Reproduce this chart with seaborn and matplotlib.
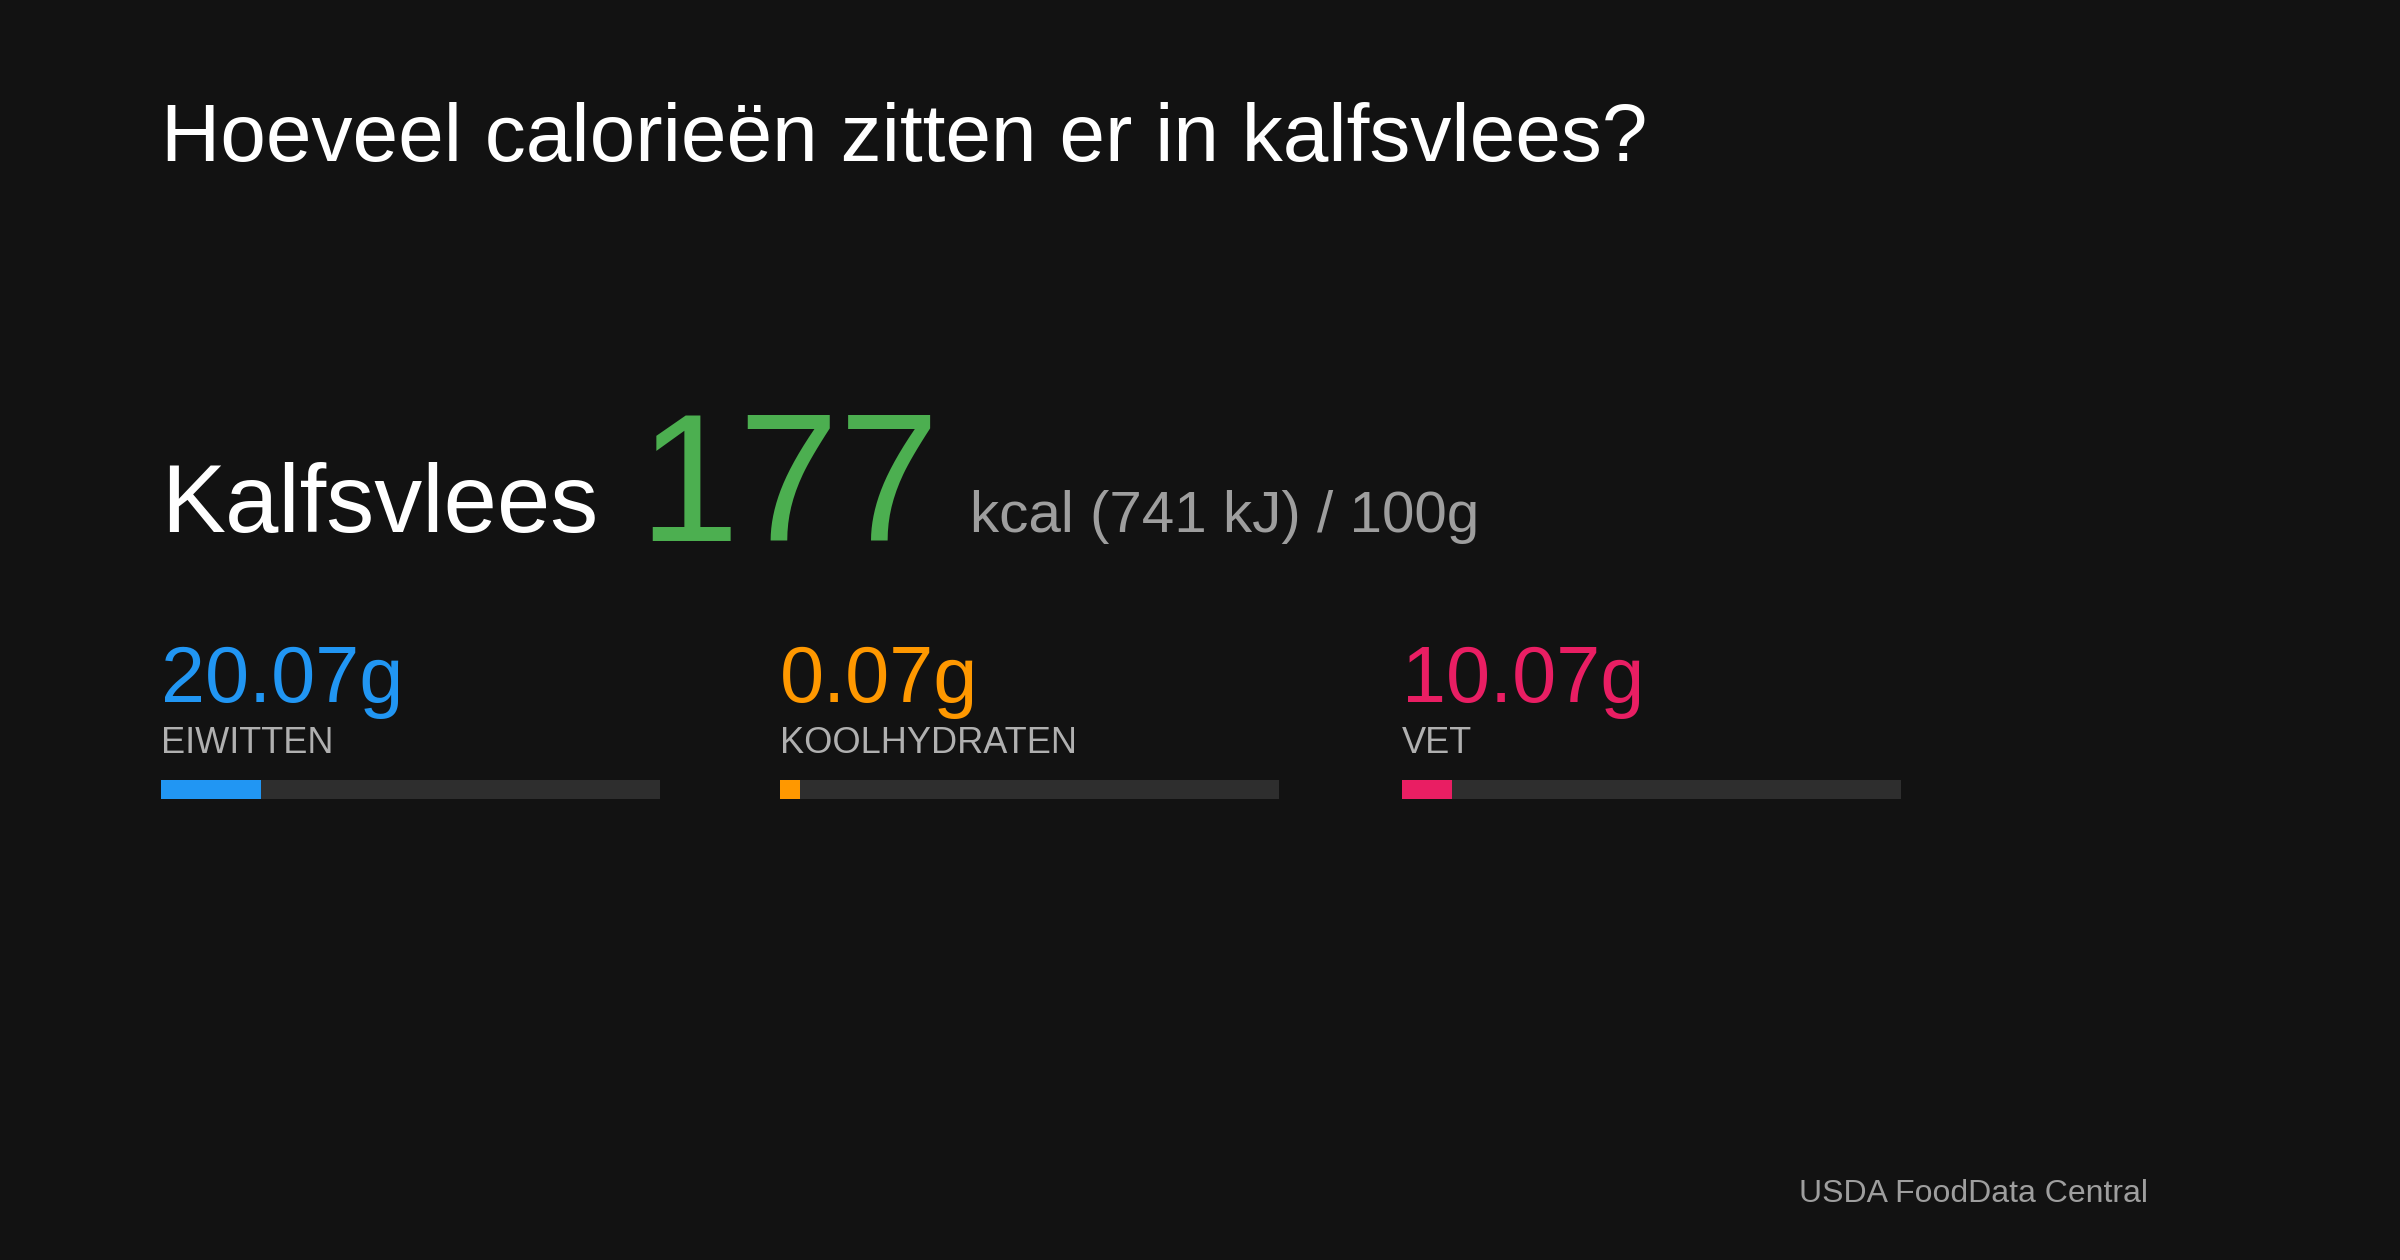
import matplotlib
matplotlib.use("Agg")
import matplotlib.pyplot as plt
import seaborn as sns

title = "Hoeveel calorieën zitten er in kalfsvlees?"
food = "Kalfsvlees"
kcal = 177
kj = 741
nutrients = ["EIWITTEN", "KOOLHYDRATEN", "VET"]
grams = [20.07, 0.07, 10.07]
colors = ["#2196F3", "#FF9800", "#E91E63"]
source = "USDA FoodData Central"

sns.set_theme(style="white")
plt.rcParams['font.family'] = ['Liberation Sans', 'DejaVu Sans']
bg = "#121212"

fig = plt.figure(figsize=(24, 12.6), dpi=100, facecolor=bg)

fig.text(0.067, 0.872, title, color="white", fontsize=59, va="baseline")
fig.text(0.067, 0.578, food, color="white", fontsize=69, va="baseline")
fig.text(0.266, 0.571, str(kcal), color="#4CAF50", fontsize=130, va="baseline")
fig.text(0.404, 0.578, f"kcal ({kj} kJ) / 100g", color="#9e9e9e", fontsize=42, va="baseline")

xs = [0.067, 0.325, 0.584]
for x, name, g, c in zip(xs, nutrients, grams, colors):
    fig.text(x, 0.443, f"{g:.2f}g", color=c, fontsize=57, va="baseline")
    fig.text(x, 0.402, name, color="#b0b0b0", fontsize=26, va="baseline")
    ax = fig.add_axes([x, 0.366, 0.208, 0.0146])
    ax.set_facecolor(bg)
    sns.barplot(x=[100], y=[0], orient="h", color="#2e2e2e", width=1.0, ax=ax,
                saturation=1, linewidth=0)
    sns.barplot(x=[max(g, 4)], y=[0], orient="h", color=c, width=1.0, ax=ax,
                saturation=1, linewidth=0)
    ax.set_xlim(0, 100)
    ax.set_ylim(0.5, -0.5)
    ax.axis("off")

fig.text(0.895, 0.046, source, color="#9e9e9e", fontsize=23, ha="right", va="baseline")

plt.savefig("out.png", dpi=100, facecolor=bg)
